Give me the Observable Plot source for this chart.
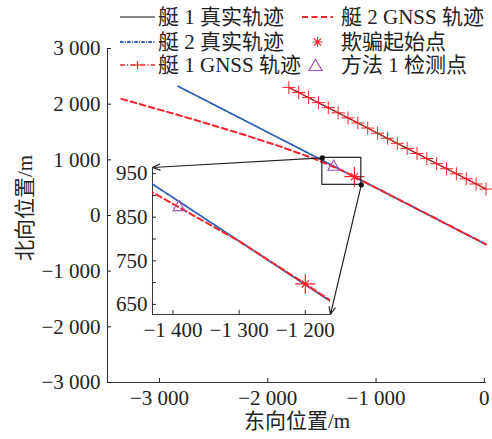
<!DOCTYPE html>
<html>
<head>
<meta charset="utf-8">
<script src="https://cdn.jsdelivr.net/npm/d3@7"></script>
<script src="https://cdn.jsdelivr.net/npm/@observablehq/plot@0.6"></script>
<style>
  body { margin: 0; background: #fff; }
  #chart { position: relative; width: 492px; height: 439px; overflow: hidden;
           font-family: "Liberation Serif", "Noto Sans CJK SC", serif; color: #222; }
  #chart > svg { position: absolute; }
  .lg { position: absolute; font-size: 21px; line-height: 24px; white-space: nowrap; }
  .sw { position: absolute; }
  .title { position: absolute; font-size: 21px; line-height: 24px; white-space: nowrap; }
</style>
</head>
<body>
<div id="chart"></div>
<script>
// Ship 1: true track and GNSS fixes (east, north in metres)
const ship1TrueX = [-1805, 15];
const ship1TrueY = [2301, 475];
const ship1GnssX = [-1805, -1714, -1623, -1532, -1441, -1350, -1259, -1168, -1077, -986, -895,
                    -804, -713, -622, -531, -440, -349, -258, -167, -76, 15];
const ship1GnssY = [2301, 2210, 2118, 2027, 1936, 1845, 1753, 1662, 1571, 1479, 1388,
                    1297, 1205, 1114, 1023, 931, 840, 749, 658, 566, 475];

// Ship 2: true track and spoofed GNSS track
const ship2TrueX = [-2828, 15];
const ship2TrueY = [2321, -518];
const ship2GnssX = [-3352, -2800, -2300, -1900, -1600, -1431, -1300, -1200, -1000, -500, 15];
const ship2GnssY = [2095, 1790, 1500, 1250, 1040, 907, 795, 697, 497, -3, -518];

// Spoofing onset and detection by method 1
const spoofStartX = [-1200];
const spoofStartY = [697];
const detectX = [-1391];
const detectY = [873];

// Axis ticks
const mainXTicks = [-3000, -2000, -1000, 0];
const mainYTicks = [-3000, -2000, -1000, 0, 1000, 2000, 3000];
const insetXTicks = [-1400, -1300, -1200];
const insetYTicks = [650, 750, 850, 950];
const insetYMinor = [700, 800, 900];

// Legend labels and axis titles
const legendLabels = ["艇 1 真实轨迹", "艇 2 真实轨迹", "艇 1 GNSS 轨迹",
                      "艇 2 GNSS 轨迹", "欺骗起始点", "方法 1 检测点"];
const axisTitles = { x: "东向位置/m", y: "北向位置/m" };

// Zoomed region, and where the enlarged view sits (both in main-plot metres)
const zoomBox = { x1: -1496, x2: -1136, y1: 551, y2: 1036 };
const insetBox = { x1: -3064, x2: -1421, y1: -1778, y2: 862 };
const insetDomainX = [-1431, -1162];
const insetDomainY = [627, 964];

const zip = (xs, ys) => xs.map((x, i) => ({ x, y: ys[i] }));
const s1t = zip(ship1TrueX, ship1TrueY);
const s1g = zip(ship1GnssX, ship1GnssY);
const s2t = zip(ship2TrueX, ship2TrueY);
const s2g = zip(ship2GnssX, ship2GnssY);
const spoof = zip(spoofStartX, spoofStartY);
const detect = zip(detectX, detectY);

const RED = "#f2262a", BLUE = "#2f5fb3", PURPLE = "#a651b6";
const DASH_RED = "6,3.5", DASHDOT_BLUE = "3.5,1.3,1,1.3", DASHDOT_RED = "5,2,1.2,2";
const FONT = '"Liberation Serif", "Noto Sans CJK SC", serif';

const fmt = d3.formatLocale({ decimal: ".", thousands: " ", grouping: [3], currency: ["", ""], minus: "\u2212" }).format(",d");

function trackMarks(clip) {
  return [
    Plot.line(s1t, { x: "x", y: "y", stroke: "#111", strokeWidth: 1.2, clip }),
    Plot.line(s2t, { x: "x", y: "y", stroke: BLUE, strokeWidth: 1.8, strokeDasharray: DASHDOT_BLUE, clip }),
    Plot.line(s1g, { x: "x", y: "y", stroke: RED, strokeWidth: 1.3, strokeDasharray: DASHDOT_RED, clip }),
    Plot.dot(s1g, { x: "x", y: "y", symbol: "plus", r: 4.3, stroke: RED, strokeWidth: 1, clip }),
    Plot.line(s2g, { x: "x", y: "y", stroke: RED, strokeWidth: 2, strokeDasharray: DASH_RED, clip }),
    Plot.dot(spoof, { x: "x", y: "y", symbol: "plus", r: 6.5, stroke: RED, strokeWidth: 1.2, clip }),
    Plot.dot(spoof, { x: "x", y: "y", symbol: "times", r: 3.3, stroke: RED, strokeWidth: 1.2, clip }),
    Plot.dot(detect, { x: "x", y: "y", symbol: "triangle", r: 4.3, stroke: PURPLE, fill: "none", strokeWidth: 1.2, clip })
  ];
}

const chart = document.getElementById("chart");

const main = Plot.plot({
  width: 492, height: 439,
  marginLeft: 107, marginRight: 6, marginTop: 48, marginBottom: 57,
  x: { domain: [-3480, 20] },
  y: { domain: [-3000, 3000] },
  style: { fontFamily: FONT, fontSize: "21px", color: "#222", background: "transparent", overflow: "visible" },
  marks: [
    Plot.ruleX([-3480], { stroke: "#333" }),
    Plot.ruleY([-3000], { stroke: "#333" }),
    Plot.axisX(mainXTicks, { tickSize: -4, tickPadding: 12, tickFormat: fmt, fontSize: 21, label: null }),
    Plot.axisY(mainYTicks, { tickSize: -4, tickPadding: 11, tickFormat: fmt, fontSize: 21, label: null }),
    ...trackMarks(false),
    Plot.rect([zoomBox], { x1: "x1", x2: "x2", y1: "y1", y2: "y2", fill: "none", stroke: "#222", strokeWidth: 1.2 }),
    Plot.arrow([
      { x1: zoomBox.x1, y1: zoomBox.y2, x2: insetBox.x1, y2: insetBox.y2 },
      { x1: zoomBox.x2, y1: zoomBox.y1, x2: insetBox.x2, y2: insetBox.y1 }
    ], { x1: "x1", y1: "y1", x2: "x2", y2: "y2", stroke: "#222", strokeWidth: 1.2, headLength: 10, headAngle: 45 }),
    Plot.dot([{ x: zoomBox.x1, y: zoomBox.y2 }, { x: zoomBox.x2, y: zoomBox.y1 }], { x: "x", y: "y", r: 2.6, fill: "#111" })
  ]
});
main.style.left = "0px";
main.style.top = "0px";
chart.appendChild(main);

// Axis titles, centred on the plot frame
const xt = document.createElement("div");
xt.className = "title";
xt.textContent = axisTitles.x;
chart.appendChild(xt);
xt.style.left = (297 - xt.offsetWidth / 2) + "px";
xt.style.top = (421 - 12) + "px";

const yt = document.createElement("div");
yt.className = "title";
yt.textContent = axisTitles.y;
chart.appendChild(yt);
yt.style.left = (25 - yt.offsetWidth / 2) + "px";
yt.style.top = (208 - 12) + "px";
yt.style.transform = "rotate(-90deg)";

// Enlarged view, placed over the inset box of the main plot
const sx = main.scale("x"), sy = main.scale("y");
const L = sx.apply(insetBox.x1), R = sx.apply(insetBox.x2);
const T = sy.apply(insetBox.y2), B = sy.apply(insetBox.y1);
const im = { left: 46, right: 12, top: 14, bottom: 34 };
const insetYAll = [...insetYTicks, ...insetYMinor].sort((a, b) => a - b);

const inset = Plot.plot({
  width: R - L + im.left + im.right,
  height: B - T + im.top + im.bottom,
  marginLeft: im.left, marginRight: im.right, marginTop: im.top, marginBottom: im.bottom,
  x: { domain: insetDomainX },
  y: { domain: insetDomainY },
  style: { fontFamily: FONT, fontSize: "21px", color: "#222", background: "transparent", overflow: "visible" },
  marks: [
    Plot.ruleX([insetDomainX[0]], { stroke: "#333" }),
    Plot.ruleY([insetDomainY[0]], { stroke: "#333" }),
    Plot.axisX(insetXTicks, { tickSize: -4, tickPadding: 12, tickFormat: fmt, fontSize: 21, label: null }),
    Plot.axisY(insetYAll, { tickSize: -4, tickPadding: 9, tickFormat: d => insetYTicks.includes(d) ? fmt(d) : "", fontSize: 21, label: null }),
    ...trackMarks(true)
  ]
});
inset.style.left = (L - im.left) + "px";
inset.style.top = (T - im.top) + "px";
chart.appendChild(inset);

// Legend: two columns of three rows
const rowsY = [17, 42, 65];
const cols = [{ sw: 120, w: 35, tx: 158 }, { sw: 302, w: 31, tx: 341 }];
const NS = "http://www.w3.org/2000/svg";
function swatch(kind, w) {
  const s = document.createElementNS(NS, "svg");
  s.setAttribute("width", w); s.setAttribute("height", 16);
  const add = (tag, attrs) => { const e = document.createElementNS(NS, tag); for (const k in attrs) e.setAttribute(k, attrs[k]); s.appendChild(e); return e; };
  const line = (stroke, dash, sw) => add("line", { x1: 0, x2: w, y1: 8, y2: 8, stroke, "stroke-width": sw, "stroke-dasharray": dash || "none" });
  const c = w / 2;
  if (kind === 0) line("#111", null, 1.2);
  if (kind === 1) line(BLUE, DASHDOT_BLUE, 1.8);
  if (kind === 2) { line(RED, DASHDOT_RED, 1.3); add("path", { d: `M${c - 4},8H${c + 4}M${c},4V12`, stroke: RED, "stroke-width": 1.2 }); }
  if (kind === 3) line(RED, DASH_RED, 2);
  if (kind === 4) add("path", { d: `M${c - 5},8H${c + 5}M${c},3V13M${c - 3.6},4.4L${c + 3.6},11.6M${c - 3.6},11.6L${c + 3.6},4.4`, stroke: RED, "stroke-width": 1.2 });
  if (kind === 5) add("path", { d: `M${c - 2},2.5L${c + 4.5},13.5H${c - 8.5}Z`, stroke: PURPLE, fill: "none", "stroke-width": 1.2 });
  return s;
}
legendLabels.forEach((label, i) => {
  const col = cols[Math.floor(i / 3)], y = rowsY[i % 3];
  const s = swatch(i, col.w);
  s.classList.add("sw");
  s.style.left = col.sw + "px"; s.style.top = (y - 8) + "px";
  chart.appendChild(s);
  const t = document.createElement("div");
  t.className = "lg";
  t.textContent = label;
  t.style.left = col.tx + "px"; t.style.top = (y - 12) + "px";
  chart.appendChild(t);
});
</script>
</body>
</html>
